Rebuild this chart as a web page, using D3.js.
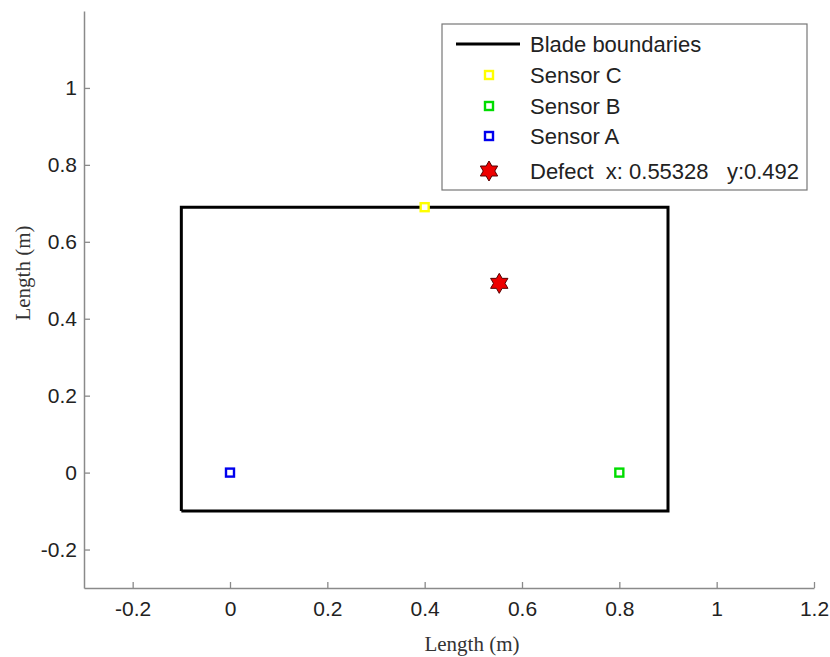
<!DOCTYPE html>
<html>
<head>
<meta charset="utf-8">
<script src="https://cdn.jsdelivr.net/npm/d3@7"></script>
<style>
  body { margin: 0; background: #fff; }
  svg { display: block; }
</style>
</head>
<body>
<div id="chart"></div>
<script>
// blade outline corners (m)
const bladeX = [-0.1, 0.9, 0.9, -0.1, -0.1];
const bladeY = [-0.1, -0.1, 0.69, 0.69, -0.1];

// sensors
const sensorNames = ["Sensor C", "Sensor B", "Sensor A"];
const sensorX = [0.4, 0.8, 0];
const sensorY = [0.69, 0, 0];
const sensorColors = ["#ffff00", "#00dd00", "#0000ee"];

// defect
const defectX = 0.55328;
const defectY = 0.492;

const xTicks = [-0.2, 0, 0.2, 0.4, 0.6, 0.8, 1, 1.2];
const yTicks = [-0.2, 0, 0.2, 0.4, 0.6, 0.8, 1];

const W = 830, H = 657;
const margin = {top: 11, right: 16, bottom: 69, left: 84};
const width = W - margin.left - margin.right,
  height = H - margin.top - margin.bottom;

const svg = d3.select("#chart").append("svg")
  .attr("width", W)
  .attr("height", H)
  .append("g")
  .attr("transform", "translate(" + margin.left + "," + margin.top + ")");

const x = d3.scaleLinear().domain([-0.3, 1.2]).range([0, width]);
const y = d3.scaleLinear().domain([-0.3, 1.2]).range([height, 0]);

const axisColor = "#8a8a8a";
const tickFont = "'Liberation Sans', Arial, sans-serif";
const fmt = d => String(+d.toFixed(1));   // plain hyphen minus like the original

// x axis, ticks pointing inward
const xAxis = svg.append("g")
  .attr("transform", "translate(0," + height + ")")
  .call(d3.axisBottom(x).tickValues(xTicks).tickSize(-6).tickPadding(13).tickSizeOuter(0)
    .tickFormat(fmt));
xAxis.select(".domain").attr("stroke", axisColor).attr("stroke-width", 1.5);
xAxis.selectAll(".tick line").attr("stroke", axisColor).attr("stroke-width", 1.3);
xAxis.selectAll(".tick text")
  .attr("fill", "#222").attr("font-size", "21px").attr("font-family", tickFont);

const yAxis = svg.append("g")
  .call(d3.axisLeft(y).tickValues(yTicks).tickSize(-6).tickPadding(7).tickSizeOuter(0)
    .tickFormat(fmt));
yAxis.select(".domain").attr("stroke", axisColor).attr("stroke-width", 1.5);
yAxis.selectAll(".tick line").attr("stroke", axisColor).attr("stroke-width", 1.3);
yAxis.selectAll(".tick text")
  .attr("fill", "#222").attr("font-size", "21px").attr("font-family", tickFont);

// axis labels
const labelFont = "'Liberation Serif', 'Times New Roman', serif";
svg.append("text")
  .attr("x", 472 - margin.left)
  .attr("y", 651 - margin.top)
  .attr("text-anchor", "middle")
  .attr("font-family", labelFont)
  .attr("font-size", "21px")
  .attr("fill", "#333")
  .text("Length (m)");

svg.append("text")
  .attr("transform", "translate(" + (30 - margin.left) + "," + (273 - margin.top) + ") rotate(-90)")
  .attr("text-anchor", "middle")
  .attr("font-family", labelFont)
  .attr("font-size", "21px")
  .attr("fill", "#333")
  .text("Length (m)");

// blade boundaries
const blade = bladeX.map((v, i) => [v, bladeY[i]]);
svg.append("path")
  .datum(blade)
  .attr("d", d3.line().x(d => x(d[0])).y(d => y(d[1])))
  .attr("fill", "none")
  .attr("stroke", "#000")
  .attr("stroke-width", 3);

// sensors
function sensorMark(sel, cx, cy, color) {
  sel.append("rect")
    .attr("x", cx - 4).attr("y", cy - 4)
    .attr("width", 8).attr("height", 8)
    .attr("fill", "#fff")
    .attr("stroke", color)
    .attr("stroke-width", 2.4);
}
sensorNames.forEach((n, i) => {
  sensorMark(svg, x(sensorX[i]), y(sensorY[i]), sensorColors[i]);
});

// six-pointed star
function starPath(r) {
  const pts = [];
  for (let k = 0; k < 12; k++) {
    const a = -Math.PI / 2 + k * Math.PI / 6;
    const rr = k % 2 === 0 ? r : r * 0.577;
    pts.push([rr * Math.cos(a), rr * Math.sin(a)]);
  }
  return "M" + pts.map(p => p.join(",")).join("L") + "Z";
}
svg.append("path")
  .attr("transform", "translate(" + x(defectX) + "," + y(defectY) + ")")
  .attr("d", starPath(10))
  .attr("fill", "#ee0000")
  .attr("stroke", "#550000")
  .attr("stroke-width", 1);

// legend
const lg = svg.append("g").attr("transform", "translate(" + (442 - margin.left) + "," + (24 - margin.top) + ")");
lg.append("rect")
  .attr("width", 365).attr("height", 166)
  .attr("fill", "#fff")
  .attr("stroke", "#777")
  .attr("stroke-width", 1.2);

const rowY = [20, 51, 82, 112, 147];
const textX = 88;
const markX = 47;

lg.append("line")
  .attr("x1", 14).attr("x2", 78)
  .attr("y1", rowY[0]).attr("y2", rowY[0])
  .attr("stroke", "#000").attr("stroke-width", 3);

const labels = ["Blade boundaries"].concat(sensorNames)
  .concat(["Defect  x: " + defectX + "   y:" + defectY]);

labels.forEach((t, i) => {
  lg.append("text")
    .attr("x", textX).attr("y", rowY[i])
    .attr("dy", "0.35em")
    .attr("font-family", tickFont)
    .attr("font-size", "22px")
    .attr("fill", "#222")
    .style("white-space", "pre")
    .text(t);
});

sensorNames.forEach((n, i) => {
  sensorMark(lg, markX, rowY[i + 1], sensorColors[i]);
});

lg.append("path")
  .attr("transform", "translate(" + markX + "," + rowY[4] + ")")
  .attr("d", starPath(10))
  .attr("fill", "#ee0000")
  .attr("stroke", "#550000")
  .attr("stroke-width", 1);
</script>
</body>
</html>
